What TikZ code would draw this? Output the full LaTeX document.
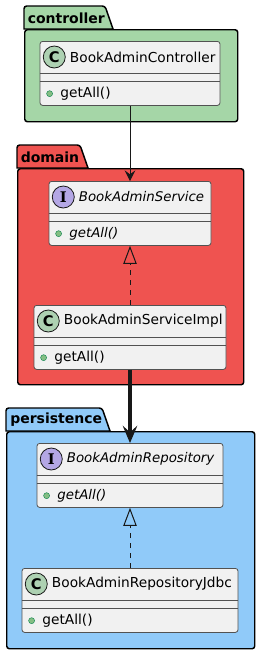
\documentclass[tikz,border=0pt]{standalone}
\usepackage{fontspec}
\setmainfont{DejaVu Sans}
\newfontfamily\spotserif{DejaVu Serif}
\usepackage{xcolor}
\usetikzlibrary{
    arrows.meta,
    positioning,
    calc
}
\definecolor{ctrlgreen}{HTML}{A5D6A7}
\definecolor{domainred}{HTML}{EF5350}
\definecolor{persistblue}{HTML}{90CAF9}
\definecolor{classfill}{HTML}{F1F1F1}
\definecolor{classborder}{HTML}{181818}
\definecolor{spotclass}{HTML}{ADD1B2}
\definecolor{spotiface}{HTML}{B4A7E5}
\definecolor{publicdot}{HTML}{84BE84}
\definecolor{publicring}{HTML}{038048}

\begin{document}
\begin{tikzpicture}[
    x=0.75pt, y=-0.75pt,
    font=\fontsize{10.3}{12}\selectfont,
    pkgbody/.style={
        draw=black,
        line width=1.1pt,
        rounded corners=2pt,
        inner sep=0,
        anchor=north west
    },
    pkgtab/.style={draw=black, line width=1.1pt},
    pkgname/.style={font=\fontsize{10.5}{12}\selectfont\bfseries, anchor=west, inner sep=0},
    classbox/.style={
        draw=classborder!75,
        fill=classfill,
        line width=0.6pt,
        rounded corners=2pt,
        minimum height=48pt,
        inner sep=0,
        anchor=north
    },
    classline/.style={draw=classborder!75, line width=0.6pt},
    spot/.style={
        circle,
        draw=classborder,
        line width=0.6pt,
        minimum size=16.5pt,
        inner sep=0,
        font=\fontsize{11}{12}\selectfont\bfseries
    },
    classname/.style={anchor=west, inner sep=0},
    method/.style={anchor=west, inner sep=0},
    public/.style={circle, draw=publicring, fill=publicdot, line width=0.3pt, minimum size=4.5pt, inner sep=0},
    uses/.style={-{Stealth[length=8pt, width=8pt, inset=3pt]}, line width=0.75pt, draw=classborder},
    usesthick/.style={-{Stealth[length=13pt, width=11pt, inset=5pt, line width=0.75pt]}, line width=2.3pt, draw=classborder},
    realizes/.style={-{Triangle[open, length=13.5pt, width=10pt]}, line width=0.75pt, draw=classborder,
        dash pattern=on 3.75pt off 3.75pt}
]

\useasboundingbox[fill=white] (0,0) rectangle (260,654);

% Packages
\node[pkgbody, fill=ctrlgreen, minimum width=159.75pt, minimum height=69pt] (ctrlpkg) at (24,29) {};
\draw[pkgtab, fill=ctrlgreen] (24,29) [rounded corners=2pt] |- (105,6) [sharp corners] -- (113,29) -- cycle;
\node[pkgname] (ctrllabel) at (27.5,18) {controller};

\node[pkgbody, fill=domainred, minimum width=169.5pt, minimum height=162pt] (domainpkg) at (17,168) {};
\draw[pkgtab, fill=domainred] (17,168) [rounded corners=2pt] |- (80,145) [sharp corners] -- (88,168) -- cycle;
\node[pkgname] (domainlabel) at (20.5,157) {domain};

\node[pkgbody, fill=persistblue, minimum width=186pt, minimum height=162.75pt] (persistpkg) at (6,431) {};
\draw[pkgtab, fill=persistblue] (6,431) [rounded corners=2pt] |- (102,408) [sharp corners] -- (110,431) -- cycle;
\node[pkgname] (persistlabel) at (10,420) {persistence};

% BookAdminController
\node[classbox, minimum width=135pt] (ctrl) at (130,41) {};
\draw[classline] ([yshift=-24pt]ctrl.north west) -- ([yshift=-24pt]ctrl.north east);
\draw[classline] ([yshift=-30pt]ctrl.north west) -- ([yshift=-30pt]ctrl.north east);
\node[spot, fill=spotclass] (ctrlspot) at ([xshift=11pt, yshift=-12pt]ctrl.north west) {C};
\node[classname, right=3pt of ctrlspot] (ctrlname) {BookAdminController};
\node[public] (ctrldot) at ([xshift=7.5pt, yshift=-39.5pt]ctrl.north west) {};
\node[method, right=5.5pt of ctrldot] (ctrlget) {getAll()};

% BookAdminService
\node[classbox, minimum width=121.5pt] (service) at (130,181) {};
\draw[classline] ([yshift=-24pt]service.north west) -- ([yshift=-24pt]service.north east);
\draw[classline] ([yshift=-30pt]service.north west) -- ([yshift=-30pt]service.north east);
\node[spot, fill=spotiface, font=\fontsize{11}{12}\selectfont\spotserif\bfseries] (servicespot) at ([xshift=11pt, yshift=-12pt]service.north west) {I};
\node[classname, right=3pt of servicespot, font=\itshape] (servicename) {BookAdminService};
\node[public] (servicedot) at ([xshift=7.5pt, yshift=-39.5pt]service.north west) {};
\node[method, right=5.5pt of servicedot, font=\itshape] (serviceget) {getAll()};

% BookAdminServiceImpl
\node[classbox, minimum width=144pt] (serviceimpl) at (130,305) {};
\draw[classline] ([yshift=-24pt]serviceimpl.north west) -- ([yshift=-24pt]serviceimpl.north east);
\draw[classline] ([yshift=-30pt]serviceimpl.north west) -- ([yshift=-30pt]serviceimpl.north east);
\node[spot, fill=spotclass] (implspot) at ([xshift=11pt, yshift=-12pt]serviceimpl.north west) {C};
\node[classname, right=3pt of implspot] (implname) {BookAdminServiceImpl};
\node[public] (impldot) at ([xshift=7.5pt, yshift=-39.5pt]serviceimpl.north west) {};
\node[method, right=5.5pt of impldot] (implget) {getAll()};

% BookAdminRepository
\node[classbox, minimum width=139.5pt] (repo) at (130,443) {};
\draw[classline] ([yshift=-24pt]repo.north west) -- ([yshift=-24pt]repo.north east);
\draw[classline] ([yshift=-30pt]repo.north west) -- ([yshift=-30pt]repo.north east);
\node[spot, fill=spotiface, font=\fontsize{11}{12}\selectfont\spotserif\bfseries] (repospot) at ([xshift=11pt, yshift=-12pt]repo.north west) {I};
\node[classname, right=3pt of repospot, font=\itshape] (reponame) {BookAdminRepository};
\node[public] (repodot) at ([xshift=7.5pt, yshift=-39.5pt]repo.north west) {};
\node[method, right=5.5pt of repodot, font=\itshape] (repoget) {getAll()};

% BookAdminRepositoryJdbc
\node[classbox, minimum width=162pt] (repojdbc) at (130,568) {};
\draw[classline] ([yshift=-24pt]repojdbc.north west) -- ([yshift=-24pt]repojdbc.north east);
\draw[classline] ([yshift=-30pt]repojdbc.north west) -- ([yshift=-30pt]repojdbc.north east);
\node[spot, fill=spotclass] (jdbcspot) at ([xshift=11pt, yshift=-12pt]repojdbc.north west) {C};
\node[classname, right=3pt of jdbcspot] (jdbcname) {BookAdminRepositoryJdbc};
\node[public] (jdbcdot) at ([xshift=7.5pt, yshift=-39.5pt]repojdbc.north west) {};
\node[method, right=5.5pt of jdbcdot] (jdbcget) {getAll()};

% Relations
\draw[uses] (ctrl) -- (service);
\draw[realizes] (serviceimpl) -- (service);
\draw[usesthick] (serviceimpl) -- (repo);
\draw[realizes] (repojdbc) -- (repo);

\end{tikzpicture}
\end{document}
